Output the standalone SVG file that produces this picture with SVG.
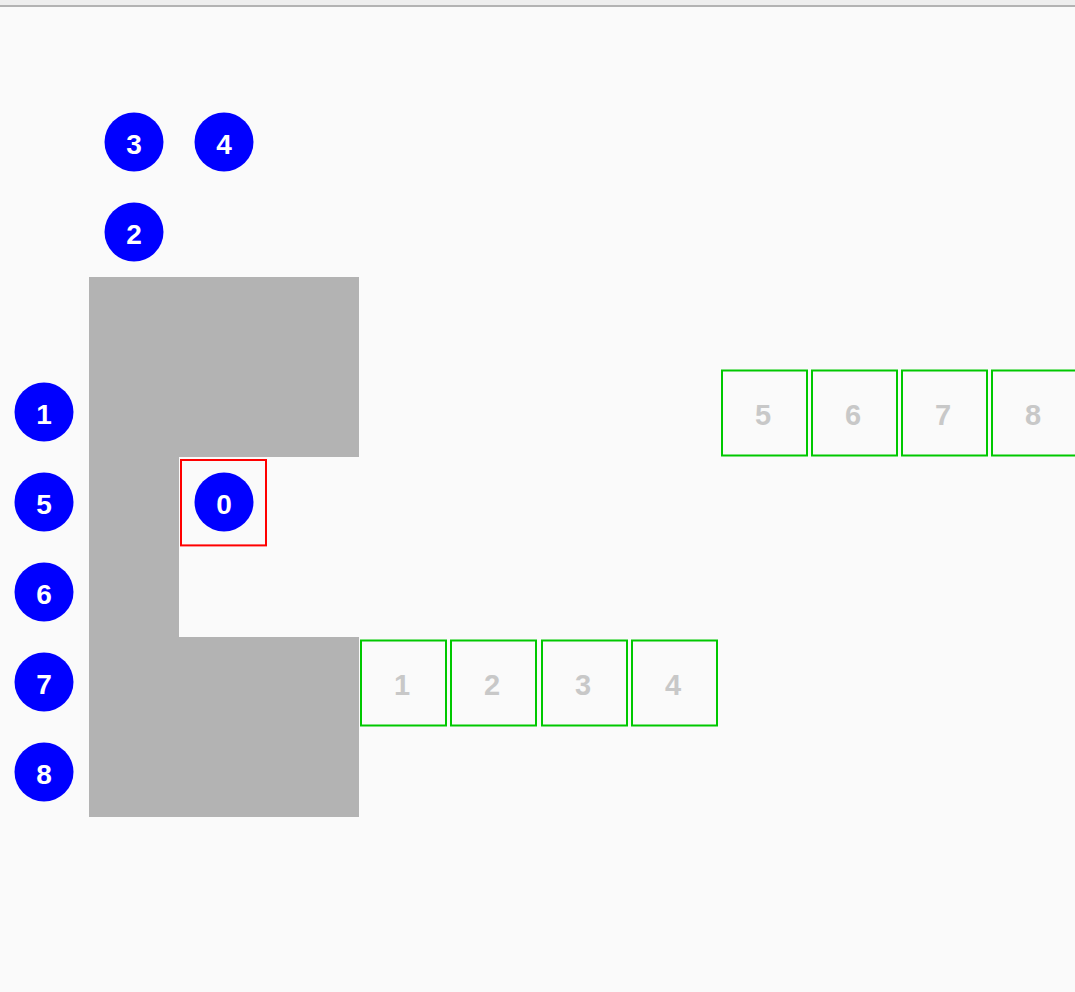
<svg xmlns="http://www.w3.org/2000/svg" width="1075" height="992" viewBox="0 0 1075 992">
<style>
.bg{fill:#fafafa}
.wall{fill:#b3b3b3}
.dot{fill:#0000ff}
.dt{font-family:"Liberation Sans",Arial,sans-serif;font-weight:bold;font-size:28px;fill:#ffffff;text-anchor:middle}
.slot{fill:none;stroke:#00c800;stroke-width:2}
.st{font-family:"Liberation Sans",Arial,sans-serif;font-weight:bold;font-size:29px;fill:#c8c8c8;text-anchor:middle}
.sel{fill:none;stroke:#ff0000;stroke-width:2}
</style>
<rect class="bg" x="0" y="0" width="1075" height="992"/>
<rect x="0" y="0" width="1075" height="5" fill="#eeeeee"/>
<rect x="0" y="5" width="1075" height="2" fill="#b3b3b3"/>
<g id="wall"><path class="wall" d="M89,277 H359 V457 H179 V637 H359 V817 H89 Z"/></g>
<g id="connectors"></g>
<g id="slot1"><rect class="slot" x="361" y="640.5" width="85" height="85"/><text class="st" x="402" y="695">1</text></g>
<g id="slot2"><rect class="slot" x="451" y="640.5" width="85" height="85"/><text class="st" x="492" y="695">2</text></g>
<g id="slot3"><rect class="slot" x="542" y="640.5" width="85" height="85"/><text class="st" x="583" y="695">3</text></g>
<g id="slot4"><rect class="slot" x="632" y="640.5" width="85" height="85"/><text class="st" x="673" y="695">4</text></g>
<g id="slot5"><rect class="slot" x="722" y="370.5" width="85" height="85"/><text class="st" x="763" y="425">5</text></g>
<g id="slot6"><rect class="slot" x="812" y="370.5" width="85" height="85"/><text class="st" x="853" y="425">6</text></g>
<g id="slot7"><rect class="slot" x="902" y="370.5" width="85" height="85"/><text class="st" x="943" y="425">7</text></g>
<g id="slot8"><rect class="slot" x="992" y="370.5" width="85" height="85"/><text class="st" x="1033" y="425">8</text></g>
<g id="select"><rect class="sel" x="181" y="460" width="85" height="85.4"/></g>
<g id="n3"><circle class="dot" cx="134" cy="142" r="29.5"/><text class="dt" x="134" y="154">3</text></g>
<g id="n4"><circle class="dot" cx="224" cy="142" r="29.5"/><text class="dt" x="224" y="154">4</text></g>
<g id="n2"><circle class="dot" cx="134" cy="232" r="29.5"/><text class="dt" x="134" y="244">2</text></g>
<g id="n1"><circle class="dot" cx="44" cy="412" r="29.5"/><text class="dt" x="44" y="424">1</text></g>
<g id="n5"><circle class="dot" cx="44" cy="502" r="29.5"/><text class="dt" x="44" y="514">5</text></g>
<g id="n6"><circle class="dot" cx="44" cy="592" r="29.5"/><text class="dt" x="44" y="604">6</text></g>
<g id="n7"><circle class="dot" cx="44" cy="682" r="29.5"/><text class="dt" x="44" y="694">7</text></g>
<g id="n8"><circle class="dot" cx="44" cy="772" r="29.5"/><text class="dt" x="44" y="784">8</text></g>
<g id="n0"><circle class="dot" cx="224" cy="502" r="29.5"/><text class="dt" x="224" y="514">0</text></g>
</svg>
